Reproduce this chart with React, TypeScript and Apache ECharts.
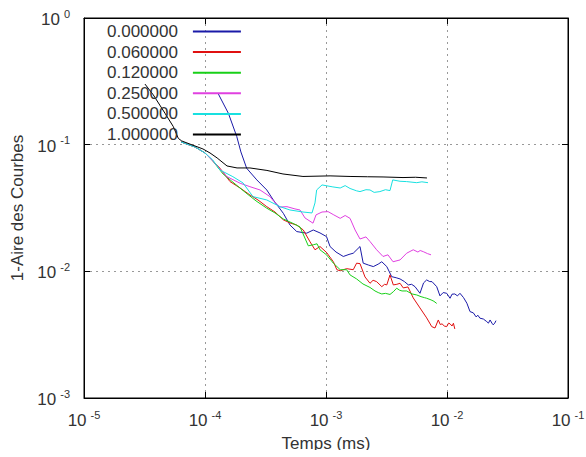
import React, { useEffect, useRef } from 'react';
import * as echarts from 'echarts';

const FONT = '"Liberation Sans", Arial, sans-serif';
const TEXT = '#333333';

const seriesNames = ['0.000000', '0.060000', '0.120000', '0.250000', '0.500000', '1.000000'];
const seriesColors = ['#1a1aa8', '#e01010', '#18d018', '#e040e0', '#18e0e0', '#000000'];

const xTickValues = [1e-5, 1e-4, 1e-3, 1e-2, 1e-1];
const yTickValues = [1e-3, 1e-2, 1e-1, 1];

const s000000: [number, number][] = [
  [1.29e-4, 0.251], [1.56e-4, 0.177], [1.83e-4, 0.116], [1.98e-4, 0.0876], [2.21e-4, 0.0651],
  [2.68e-4, 0.0527], [3.24e-4, 0.0439], [3.67e-4, 0.0366], [4.44e-4, 0.0287], [5.04e-4, 0.0232],
  [5.73e-4, 0.0206], [6.92e-4, 0.0200], [7.85e-4, 0.0212], [8.92e-4, 0.0201], [1.01e-3, 0.0188],
  [1.08e-3, 0.0157], [1.21e-3, 0.0142], [1.39e-3, 0.0131], [1.55e-3, 0.0136], [1.68e-3, 0.0139],
  [1.91e-3, 0.0157], [2.03e-3, 0.0116], [2.25e-3, 0.0112], [2.46e-3, 0.0109], [2.7e-3, 0.0114],
  [2.89e-3, 0.0119], [3.18e-3, 0.0109], [3.49e-3, 0.00908], [3.8e-3, 0.0089], [4.09e-3, 0.00871],
  [4.45e-3, 0.0083], [4.79e-3, 0.00781], [5.1e-3, 0.0079], [5.44e-3, 0.00757], [5.98e-3, 0.00671],
  [6.4e-3, 0.0081], [6.79e-3, 0.00855], [7.2e-3, 0.0083], [7.52e-3, 0.00829], [8.22e-3, 0.00757],
  [8.75e-3, 0.0064], [9.3e-3, 0.0068], [9.94e-3, 0.00671], [1.06e-2, 0.00613], [1.1e-2, 0.0066],
  [1.16e-2, 0.00663], [1.22e-2, 0.0064], [1.28e-2, 0.00671], [1.37e-2, 0.0062], [1.46e-2, 0.0056],
  [1.55e-2, 0.00481], [1.65e-2, 0.0047], [1.74e-2, 0.00437], [1.8e-2, 0.0045], [1.87e-2, 0.00427],
  [2.0e-2, 0.0042], [2.13e-2, 0.00401], [2.2e-2, 0.0039], [2.27e-2, 0.00413], [2.35e-2, 0.0039],
  [2.41e-2, 0.00378], [2.48e-2, 0.0039], [2.54e-2, 0.00408],
];

const s060000: [number, number][] = [
  [6.34e-5, 0.105], [8.27e-5, 0.0959], [1.0e-4, 0.086], [1.16e-4, 0.0744], [1.33e-4, 0.0651],
  [1.61e-4, 0.0511], [1.95e-4, 0.0455], [2.35e-4, 0.0401], [2.74e-4, 0.0366], [3.24e-4, 0.0324],
  [3.79e-4, 0.0294], [4.44e-4, 0.0255], [5.04e-4, 0.0241], [5.73e-4, 0.0232], [6.49e-4, 0.0212],
  [7.38e-4, 0.0171], [8.11e-4, 0.0148], [8.92e-4, 0.0157], [1.01e-3, 0.0141], [1.15e-3, 0.0119],
  [1.23e-3, 0.0103], [1.31e-3, 0.0101], [1.48e-3, 0.0105], [1.68e-3, 0.0103], [1.79e-3, 0.0116],
  [1.91e-3, 0.0115], [2.1e-3, 0.00903], [2.31e-3, 0.00805], [2.45e-3, 0.0085], [2.62e-3, 0.00829],
  [2.89e-3, 0.00757], [3.05e-3, 0.0079], [3.18e-3, 0.00781], [3.38e-3, 0.00937], [3.6e-3, 0.00781],
  [3.85e-3, 0.0079], [4.09e-3, 0.00805], [4.35e-3, 0.0074], [4.76e-3, 0.00753], [5.26e-3, 0.00617],
  [5.98e-3, 0.00514], [6.79e-3, 0.00429], [7.48e-3, 0.00366], [7.96e-3, 0.00357], [8.47e-3, 0.00413],
  [8.8e-3, 0.0038], [9.1e-3, 0.00385], [9.5e-3, 0.0037], [9.94e-3, 0.00366], [1.03e-2, 0.0039],
  [1.06e-2, 0.00385], [1.1e-2, 0.0037], [1.13e-2, 0.00389], [1.16e-2, 0.00351],
];

const s120000: [number, number][] = [
  [6.34e-5, 0.105], [8.27e-5, 0.0959], [1.0e-4, 0.086], [1.16e-4, 0.0744], [1.41e-4, 0.0587],
  [1.77e-4, 0.049], [2.18e-4, 0.0416], [2.64e-4, 0.036], [3.24e-4, 0.0315], [3.79e-4, 0.0289],
  [4.44e-4, 0.0259], [5.24e-4, 0.0241], [6.1e-4, 0.0224], [6.58e-4, 0.019], [7.14e-4, 0.0159],
  [7.85e-4, 0.0162], [8.43e-4, 0.0165], [8.92e-4, 0.0148], [1.01e-3, 0.0135], [1.15e-3, 0.0116],
  [1.31e-3, 0.0103], [1.48e-3, 0.0103], [1.58e-3, 0.00937], [1.79e-3, 0.00871], [2.02e-3, 0.00795],
  [2.31e-3, 0.00746], [2.54e-3, 0.007], [2.7e-3, 0.0068], [2.89e-3, 0.00663], [3.1e-3, 0.0067],
  [3.38e-3, 0.00657], [3.6e-3, 0.0069], [3.84e-3, 0.00736], [4.05e-3, 0.0071], [4.25e-3, 0.007],
  [4.64e-3, 0.007], [5.14e-3, 0.00663], [5.62e-3, 0.00651], [6.1e-3, 0.00631], [6.5e-3, 0.0062],
  [6.79e-3, 0.00613], [7.38e-3, 0.00595], [7.8e-3, 0.0058], [8.22e-3, 0.00558],
];

const s250000: [number, number][] = [
  [6.34e-5, 0.105], [8.27e-5, 0.0959], [1.0e-4, 0.086], [1.14e-4, 0.0757], [1.26e-4, 0.0679],
  [1.52e-4, 0.0559], [1.95e-4, 0.0496], [2.35e-4, 0.0466], [2.85e-4, 0.0439], [3.44e-4, 0.0389],
  [3.72e-4, 0.0355], [4.17e-4, 0.0322], [4.76e-4, 0.0324], [5.54e-4, 0.0311], [6.1e-4, 0.0305],
  [6.7e-4, 0.0264], [7.81e-4, 0.024], [8.27e-4, 0.0279], [9.27e-4, 0.0294], [1.04e-3, 0.0296],
  [1.16e-3, 0.0279], [1.31e-3, 0.0262], [1.44e-3, 0.0276], [1.58e-3, 0.0262], [1.74e-3, 0.0212],
  [1.91e-3, 0.018], [2.14e-3, 0.0187], [2.31e-3, 0.0172], [2.62e-3, 0.0148], [2.96e-3, 0.0131],
  [3.25e-3, 0.0135], [3.58e-3, 0.0119], [4.09e-3, 0.0123], [4.64e-3, 0.0139], [5.26e-3, 0.0148],
  [5.75e-3, 0.0142], [6.0e-3, 0.0146], [6.37e-3, 0.0143], [6.9e-3, 0.0138], [7.38e-3, 0.0135],
];

const s500000: [number, number][] = [
  [6.34e-5, 0.105], [8.27e-5, 0.0959], [1.0e-4, 0.086], [1.16e-4, 0.0757], [1.33e-4, 0.0631],
  [1.7e-4, 0.0559], [2.06e-4, 0.0499], [2.49e-4, 0.0389], [3.24e-4, 0.0366], [4.17e-4, 0.0324],
  [5.04e-4, 0.0305], [6.45e-4, 0.0294], [7.66e-4, 0.0289], [8.11e-4, 0.0347], [8.37e-4, 0.0439],
  [9.27e-4, 0.0481], [1.14e-3, 0.0464], [1.31e-3, 0.0455], [1.44e-3, 0.0475], [1.58e-3, 0.0451],
  [1.79e-3, 0.0432], [1.91e-3, 0.0426], [2.14e-3, 0.0441], [2.31e-3, 0.0439], [2.5e-3, 0.042],
  [2.79e-3, 0.0426], [3.1e-3, 0.0441], [3.38e-3, 0.0434], [3.56e-3, 0.0527], [4.09e-3, 0.0514],
  [4.64e-3, 0.0511], [5.62e-3, 0.0501], [6.2e-3, 0.0509], [6.97e-3, 0.0501],
];

const s1000000: [number, number][] = [
  [3.19e-5, 0.301], [3.74e-5, 0.247], [4.67e-5, 0.177], [5.47e-5, 0.139], [6.02e-5, 0.112],
  [6.42e-5, 0.107], [7.52e-5, 0.101], [9.62e-5, 0.0925], [1.1e-4, 0.086], [1.26e-4, 0.0785],
  [1.52e-4, 0.0679], [1.84e-4, 0.0655], [2.35e-4, 0.0655], [3.25e-4, 0.0626], [4.41e-4, 0.0587],
  [6.45e-4, 0.0561], [1.08e-3, 0.0567], [1.58e-3, 0.0561], [2.2e-3, 0.0558], [2.96e-3, 0.0556],
  [4.33e-3, 0.055], [5.5e-3, 0.0553], [6.83e-3, 0.0546],
];

const seriesData = [s000000, s060000, s120000, s250000, s500000, s1000000];

const fmt = (v: number) => `{b|10}{s|${Math.round(Math.log10(v))}}`;
const rich = {
  b: { fontSize: 17, fontFamily: FONT, color: TEXT, lineHeight: 20, verticalAlign: 'bottom' },
  s: { fontSize: 11, fontFamily: FONT, color: TEXT, lineHeight: 12, padding: [0, 0, 9, 4], verticalAlign: 'bottom' },
};

export default function App() {
  const ref = useRef<HTMLDivElement>(null);
  useEffect(() => {
    const chart = echarts.init(ref.current!, null, { renderer: 'svg' });
    const axisLine = { show: true, lineStyle: { color: '#000', width: 1 } };
    const tick = { show: true, inside: true, length: 6, lineStyle: { color: '#000', width: 1 } };
    chart.setOption({
      animation: false,
      backgroundColor: '#fff',
      grid: {
        left: 84, right: 18, top: 18, bottom: 59, show: true, borderColor: '#000', borderWidth: 1,
        containLabel: false, outerBoundsMode: 'none',
      },
      legend: {
        orient: 'vertical',
        left: 107,
        top: 23,
        padding: 0,
        align: 'right',
        itemWidth: 48,
        itemHeight: 14,
        itemGap: 3.6,
        data: seriesNames,
        itemStyle: { opacity: 0 },
        textStyle: { fontSize: 17, fontFamily: FONT, color: TEXT, lineHeight: 17, padding: [0, 10, 0, 0] },
      },
      xAxis: [
        {
          type: 'log', logBase: 10, min: xTickValues[0], max: xTickValues[xTickValues.length - 1],
          name: 'Temps (ms)', nameLocation: 'middle', nameGap: 37,
          nameTextStyle: { fontSize: 17, fontFamily: FONT, color: TEXT },
          axisLine, axisTick: tick,
          axisLabel: { formatter: fmt, rich, margin: 11, showMinLabel: true, showMaxLabel: true },
          splitLine: { show: true, lineStyle: { color: '#999', type: [2, 4], width: 1 } },
        },
        {
          type: 'log', logBase: 10, min: xTickValues[0], max: xTickValues[xTickValues.length - 1],
          position: 'top', axisLine, axisTick: tick, axisLabel: { show: false }, splitLine: { show: false },
        },
      ],
      yAxis: [
        {
          type: 'log', logBase: 10, min: yTickValues[0], max: yTickValues[yTickValues.length - 1],
          name: '1-Aire des Courbes', nameLocation: 'middle', nameGap: 58,
          nameTextStyle: { fontSize: 17, fontFamily: FONT, color: TEXT },
          axisLine, axisTick: tick,
          axisLabel: { formatter: fmt, rich, margin: 14, showMinLabel: true, showMaxLabel: true },
          splitLine: { show: true, lineStyle: { color: '#999', type: [2, 4], width: 1 } },
        },
        {
          type: 'log', logBase: 10, min: yTickValues[0], max: yTickValues[yTickValues.length - 1],
          position: 'right', axisLine, axisTick: tick, axisLabel: { show: false }, splitLine: { show: false },
        },
      ],
      series: seriesNames.map((name, i) => ({
        name,
        type: 'line',
        xAxisIndex: 0,
        yAxisIndex: 0,
        data: seriesData[i],
        symbol: 'none',
        showSymbol: false,
        color: seriesColors[i],
        lineStyle: { color: seriesColors[i], width: 1 },
      })),
      graphic: [
        { type: 'rect', shape: { x: 0, y: 450, width: 586, height: 7 }, style: { fill: '#fff' }, z: 100 },
      ],
    });
    return () => chart.dispose();
  }, []);
  return <div ref={ref} style={{ position: 'fixed', left: 0, top: 0, width: 586, height: 457 }} />;
}
